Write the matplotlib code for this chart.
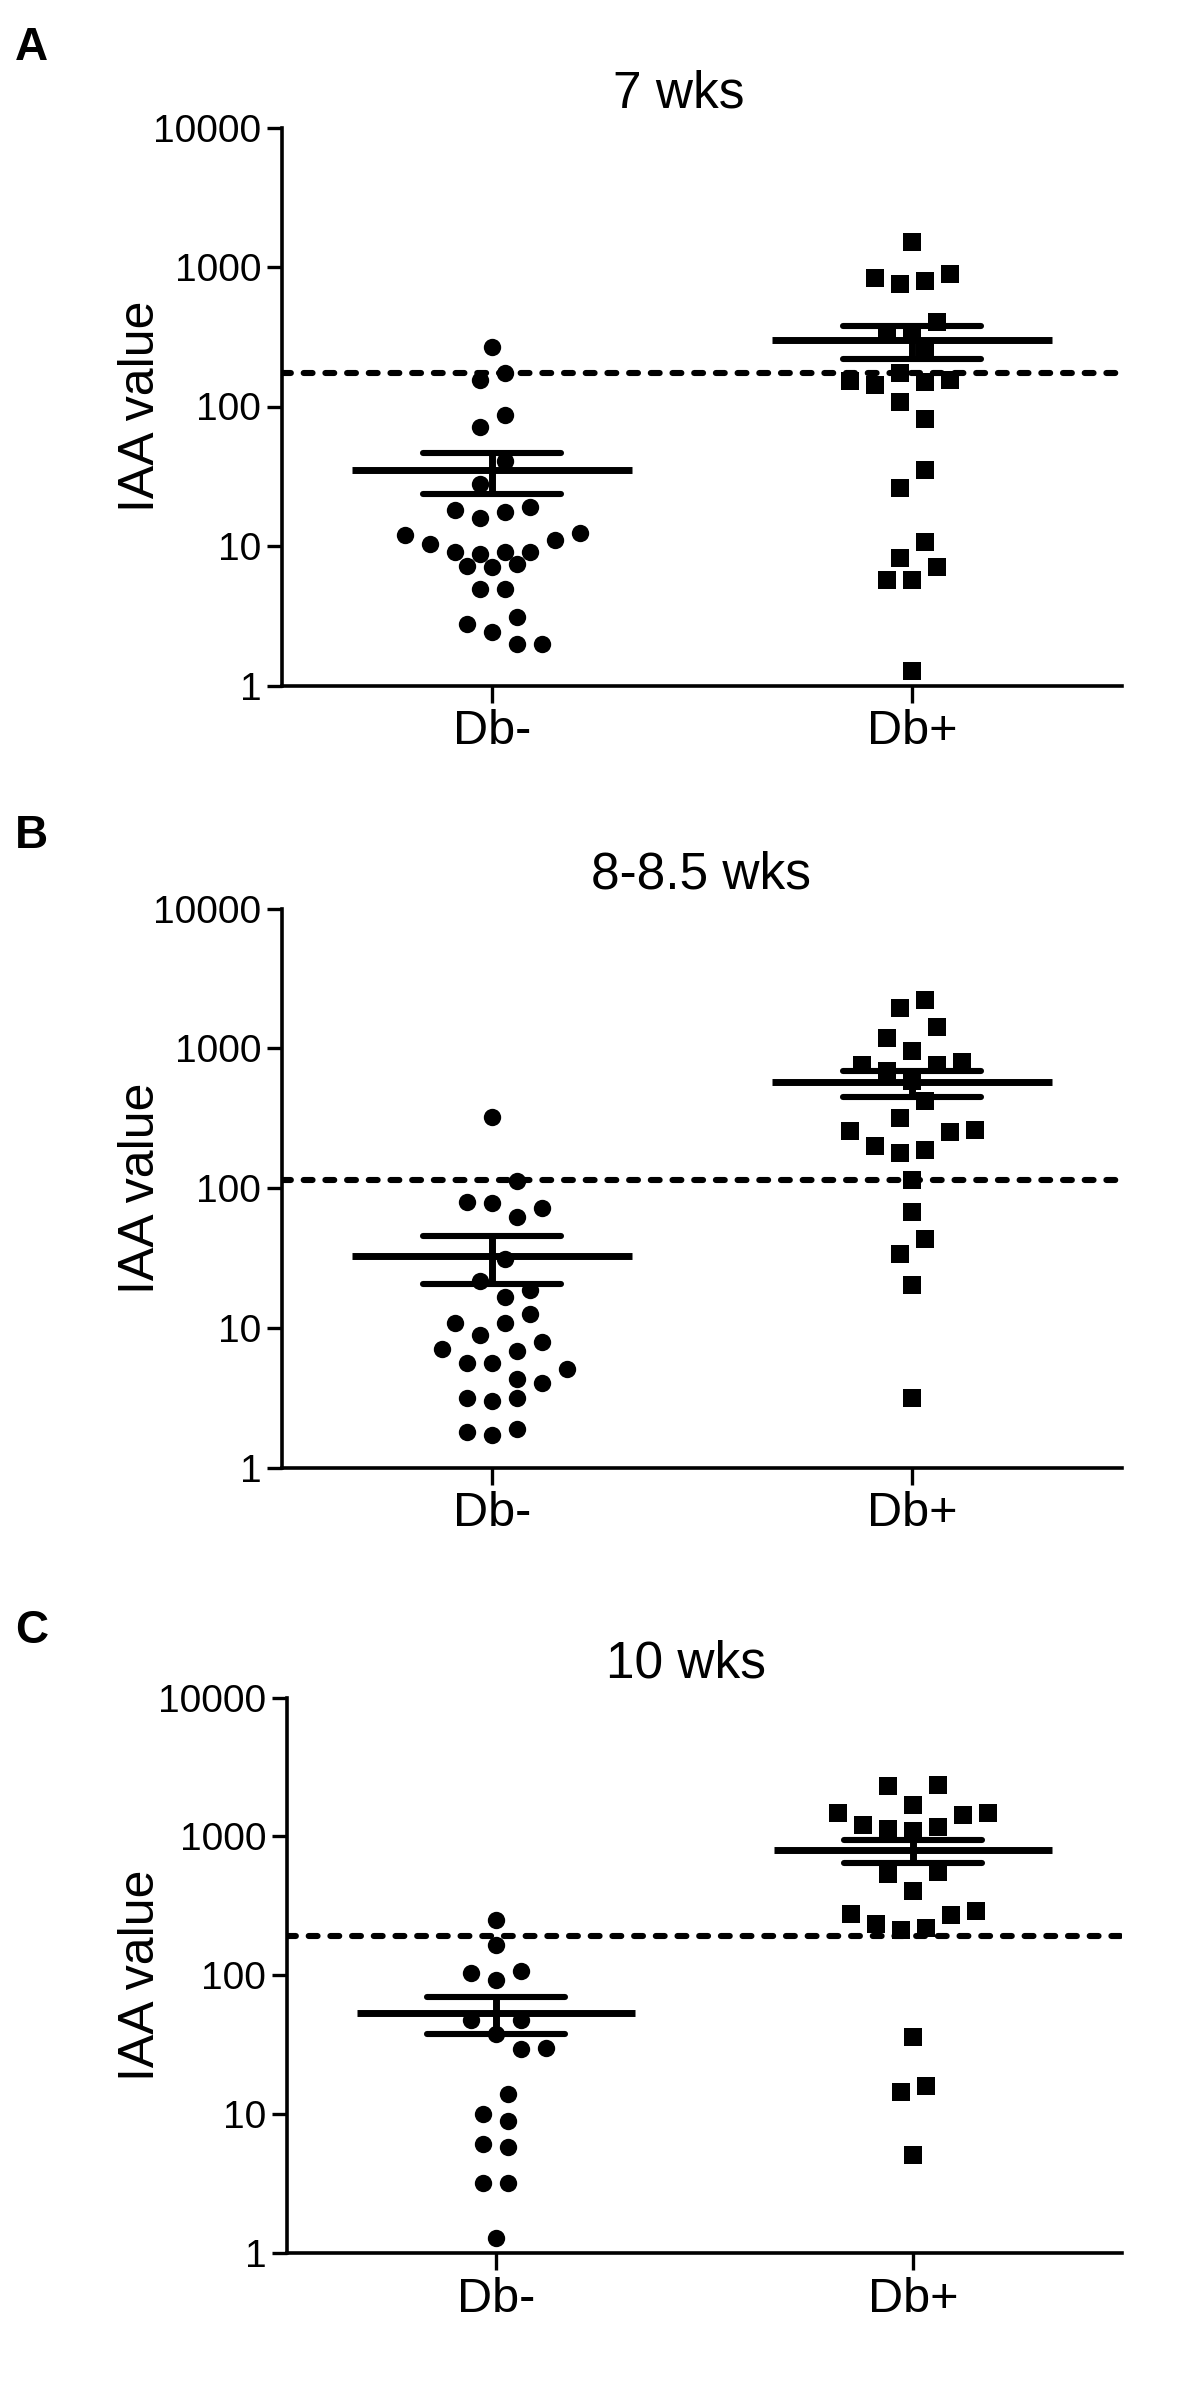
import numpy as np
import matplotlib
matplotlib.use("Agg")
import matplotlib.pyplot as plt
from matplotlib.ticker import FixedLocator, FixedFormatter, NullLocator

plt.rcParams['font.family'] = ['Liberation Sans', 'DejaVu Sans']

# ---------------- data ----------------
categories = ["Db-", "Db+"]
titles = ["7 wks", "8-8.5 wks", "10 wks"]
panel_letters = ["A", "B", "C"]
y_ticks = [1, 10, 100, 1000, 10000]
y_tick_labels = ["1", "10", "100", "1000", "10000"]
y_label = "IAA value"

wk7_neg = [268, 174, 156, 87, 71, 41, 28, 19, 18, 17.5, 16, 12.4, 12, 11, 10.4,
           9.1, 9.0, 8.8, 9.1, 7.4, 7.2, 7.1, 4.9, 4.9, 3.1, 2.75, 2.4, 2.0, 2.0]
wk7_pos = [1500, 835, 755, 790, 895, 405, 335, 335, 245, 155, 150, 143, 152, 175,
           108, 82, 35, 26, 10.7, 8.2, 5.7, 5.7, 7.1, 1.28]
wk8_neg = [325, 113, 78, 79, 72, 62, 31, 21.7, 18.8, 16.6, 12.5, 10.9, 10.9, 8.9,
           7.9, 7.1, 6.85, 5.6, 5.1, 5.6, 4.0, 4.3, 3.17, 3.0, 3.17, 1.88, 1.71, 1.79]
wk8_pos = [2230, 1950, 1415, 1195, 955, 765, 755, 800, 685, 585, 420, 320, 260,
           253, 256, 188, 177, 200, 115, 67, 43, 34, 20.3, 3.16]
wk10_neg = [249, 165, 103, 108, 92, 48, 48, 38, 30, 29.6, 13.9, 10.1, 8.9, 5.8,
            6.1, 3.17, 3.17, 1.29]
wk10_pos = [2325, 2295, 1695, 1470, 1427, 1470, 1200, 1128, 1093, 1164, 551, 540,
            401, 288, 271, 276, 234, 220, 213, 36, 16, 14.5, 5.04]
thresholds = [175, 115, 191]

groups = [(wk7_neg, wk7_pos), (wk8_neg, wk8_pos), (wk10_neg, wk10_pos)]

# ---------------- layout ----------------
W, H = 1200, 2386
fig = plt.figure(figsize=(W / 100, H / 100), dpi=100)
boxes = [(282, 1122, 127.5, 685.5), (282, 1122, 908.7, 1467.5), (287, 1122, 1697.5, 2253)]
title_cx = [679, 701, 686]
letter_base = [60, 848, 1643]
markers = ['o', 's']


def swarm(vals, px_per_dec, s_px, row_h=24.0, dy_min=18.0):
    """Row-based scatter layout (column-scatter style), offsets in pixels."""
    v = np.asarray(vals, float)
    y = np.log10(v) * px_per_dec
    order = list(np.argsort(-v, kind='stable'))
    rows, cur = [], []
    for i in order:
        if cur and y[cur[0]] - y[i] > row_h:
            rows.append(cur)
            cur = []
        cur.append(i)
    rows.append(cur)

    placed = []
    off = np.zeros(len(v))

    def collides(xs, idx):
        for x, i in zip(xs, idx):
            for px, py in placed:
                if abs(x - px) < 2 * s_px - 1e-6 and abs(y[i] - py) < dy_min:
                    return True
        return False

    for row in rows:
        n = len(row)
        slots = [(k - (n - 1) / 2.0) * 2 for k in range(n)]
        slots = sorted(slots, key=lambda t: (abs(t), t))
        row_sorted = sorted(row, key=lambda i: v[i])
        base = [t * s_px for t in slots]
        chosen = None
        for shift in [0, 1, -1, 2, -2, 3, -3, 4, -4]:
            xs = [b + shift * s_px for b in base]
            if not collides(xs, row_sorted):
                chosen = xs
                break
        if chosen is None:
            chosen = base
        for x, i in zip(chosen, row_sorted):
            off[i] = x
            placed.append((x, y[i]))
    return off


for p, (l, r, t, b) in enumerate(boxes):
    ax = fig.add_axes([l / W, 1 - b / H, (r - l) / W, (b - t) / H])
    ax.set_yscale('log')
    ax.set_ylim(1, 10000)
    ax.set_xlim(-0.5, 1.5)
    px_per_unit = (r - l) / 2.0
    px_per_dec = (b - t) / 4.0

    ax.axhline(thresholds[p], color='k', lw=4.4, dashes=(1.45, 2.1),
               dash_capstyle='round', zorder=2)

    for gi, vals in enumerate(groups[p]):
        v = np.asarray(vals, float)
        offs = swarm(v, px_per_dec, 12.5) / px_per_unit
        ax.plot(gi + offs, v, markers[gi], ms=12.5, color='k', mew=0, zorder=3,
                linestyle='none')
        m = v.mean()
        sem = v.std(ddof=1) / np.sqrt(len(v))
        ax.plot([gi - 0.333, gi + 0.333], [m, m], color='k', lw=5,
                solid_capstyle='butt', zorder=4)
        for yy in (m - sem, m + sem):
            ax.plot([gi - 0.165, gi + 0.165], [yy, yy], color='k', lw=4.4,
                    solid_capstyle='round', zorder=4)
        ax.plot([gi, gi], [m - sem, m + sem], color='k', lw=5,
                solid_capstyle='butt', zorder=4)

    for side in ('top', 'right'):
        ax.spines[side].set_visible(False)
    for side in ('left', 'bottom'):
        ax.spines[side].set_linewidth(2.6)
    ax.yaxis.set_major_locator(FixedLocator(y_ticks))
    ax.yaxis.set_major_formatter(FixedFormatter(y_tick_labels))
    ax.yaxis.set_minor_locator(NullLocator())
    ax.set_xticks([0, 1])
    ax.set_xticklabels(categories)
    ax.tick_params(axis='y', length=11, width=2.4, pad=4, labelsize=28)
    ax.tick_params(axis='x', length=12, width=2.4, pad=5, labelsize=35)
    ax.set_ylabel(y_label, fontsize=36)
    ax.yaxis.set_label_coords((163.6 - l) / (r - l), 0.5)
    ax.annotate(titles[p], xy=((title_cx[p] - l) / (r - l), 1.0), xycoords='axes fraction',
                xytext=(0, 14.4), textcoords='offset points', ha='center',
                va='baseline', fontsize=37)
    fig.text(15 / W, 1 - letter_base[p] / H, panel_letters[p], fontsize=33,
             fontweight='bold', ha='left', va='baseline')

fig.savefig("out.png", dpi=100, facecolor='white')
